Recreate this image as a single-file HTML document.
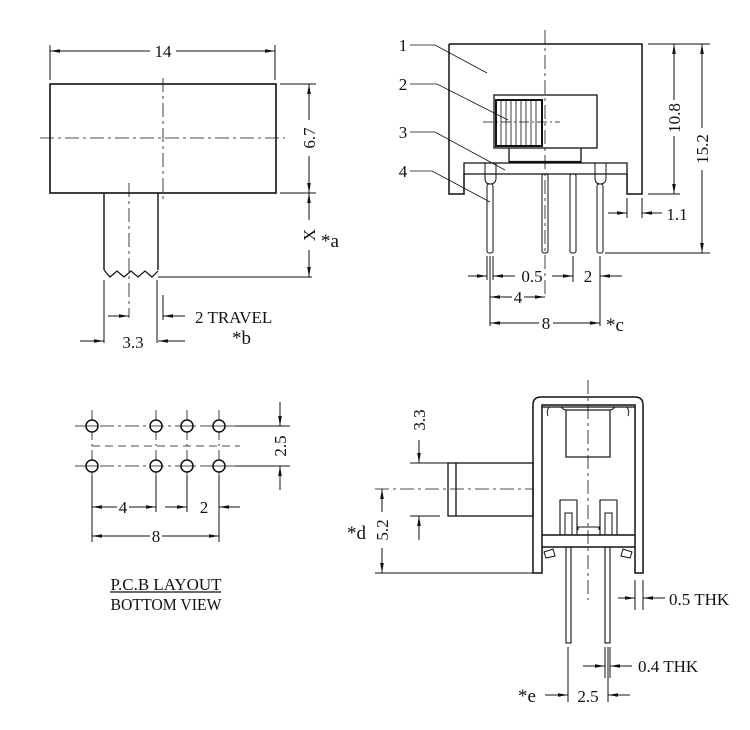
<!DOCTYPE html>
<html><head><meta charset="utf-8"><style>
html,body{margin:0;padding:0;background:#fff;}
svg{display:block;}
text{font-family:"Liberation Serif",serif;font-size:17px;fill:#111;}
.s{font-size:19px;}
</style></head><body>
<svg width="750" height="730" viewBox="0 0 750 730" xmlns="http://www.w3.org/2000/svg">
<defs>
<marker id="a" viewBox="0 0 10 6" refX="10" refY="3" markerWidth="10" markerHeight="6" markerUnits="userSpaceOnUse" orient="auto-start-reverse"><path d="M0,1.2 L10,3 L0,4.8 Z" fill="#111"/></marker>
</defs>
<g stroke="#111" stroke-width="1" fill="none">
<!-- ===== TOP LEFT ===== -->
<rect x="50" y="84" width="226" height="109" stroke-width="1.6"/>
<path d="M104,193 V270 M158,193 V270" stroke-width="1.4"/>
<path d="M104,270 L110,277 L117,271 L124,277 L131,271 L138,277 L145,271 L152,277 L158,271" stroke-width="1.2"/>
<path d="M158,277 H312" />
<path d="M40,138 H285" stroke-dasharray="14,4,3,4" stroke-width="0.8"/>
<path d="M163,78 V203" stroke-dasharray="14,4,3,4" stroke-width="0.8"/>
<path d="M129,183 V318" stroke-dasharray="14,4,3,4" stroke-width="0.8"/>
<path d="M50,45 V80 M275,45 V80"/>
<path d="M50,51 H150" marker-start="url(#a)"/>
<path d="M176,51 H275" marker-end="url(#a)"/>
<path d="M280,84 H316 M280,193 H316"/>
<path d="M309,84 V120" marker-start="url(#a)"/>
<path d="M309,156 V193" marker-end="url(#a)"/>
<path d="M309,193 V220" marker-start="url(#a)"/>
<path d="M309,250 V277" marker-end="url(#a)"/>
<path d="M104,280 V343 M157,280 V343 M163,295 V320"/>
<path d="M80,341 H104" marker-end="url(#a)"/>
<path d="M185,341 H158" marker-end="url(#a)"/>
<path d="M108,316 H129" marker-end="url(#a)"/>
<path d="M185,316 H163" marker-end="url(#a)"/>
<!-- ===== TOP RIGHT ===== -->
<path d="M449,44 H642 V194 H627 V174 M464,174 V194 H449 V44" stroke-width="1.5"/>
<path d="M464,163 H627 V174 H464 Z" stroke-width="1.3"/>
<path d="M485,163 V178 Q485,184 490,184 Q496,184 496,178 V163 M595,163 V178 Q595,184 600,184 Q606,184 606,178 V163"/>
<rect x="494" y="95" width="103" height="53" stroke-width="1.3"/>
<path d="M509,148 V163 M581,148 V163" stroke-width="1.3"/>
<path d="M509,162 H581" stroke-width="2.2"/>
<rect x="496" y="100" width="46" height="46" stroke-width="2"/>
<path d="M501,100V146 M506,100V146 M511,100V146 M516,100V146 M521,100V146 M526,100V146 M531,100V146 M536,100V146" stroke-width="0.8"/>
<path d="M483,122 H560" stroke-dasharray="10,3,2,3" stroke-width="0.7"/>
<path d="M545,30 V295" stroke-dasharray="14,4,3,4" stroke-width="0.8"/>
<rect x="487" y="184" width="6" height="69" rx="2"/>
<rect x="542" y="174" width="6" height="79" rx="2"/>
<rect x="570" y="174" width="6" height="79" rx="2"/>
<rect x="597" y="184" width="6" height="69" rx="2"/>
<path d="M410,45 H435 L487,73 M410,84 H437 L508,120 M410,132 H435 L505,170 M410,171 H432 L490,202" stroke-width="0.8"/>
<path d="M648,44 H710 M648,194 H680 M605,253 H710"/>
<path d="M674,44 V100" marker-start="url(#a)"/>
<path d="M674,136 V194" marker-end="url(#a)"/>
<path d="M702,44 V128" marker-start="url(#a)"/>
<path d="M702,170 V253" marker-end="url(#a)"/>
<path d="M627,198 V218 M642,198 V218"/>
<path d="M608,213 H627" marker-end="url(#a)"/>
<path d="M662,213 H642" marker-end="url(#a)"/>
<path d="M487,256 V280 M490,256 V326 M493,256 V280 M573,256 V282 M600,256 V326"/>
<path d="M468,276 H487" marker-end="url(#a)"/>
<path d="M515,276 H493" marker-end="url(#a)"/>
<path d="M552,276 H573" marker-end="url(#a)"/>
<path d="M622,276 H600" marker-end="url(#a)"/>
<path d="M490,297 H512" marker-start="url(#a)"/>
<path d="M524,297 H545" marker-end="url(#a)"/>
<path d="M490,323 H539" marker-start="url(#a)"/>
<path d="M553,323 H600" marker-end="url(#a)"/>
<!-- ===== BOTTOM LEFT ===== -->
<path d="M75,426 H290 M75,466 H290" stroke-dasharray="14,4,3,4" stroke-width="0.8"/>
<path d="M92,446 H240" stroke-dasharray="8,5" stroke-width="0.8"/>
<path d="M92,410 V482 M156,410 V482 M187,410 V482 M219,410 V482" stroke-dasharray="10,4,2,4" stroke-width="0.8"/>
<g stroke-width="1.5" fill="#fff"><circle cx="92" cy="426" r="6"/><circle cx="156" cy="426" r="6"/><circle cx="187" cy="426" r="6"/><circle cx="219" cy="426" r="6"/><circle cx="92" cy="466" r="6"/><circle cx="156" cy="466" r="6"/><circle cx="187" cy="466" r="6"/><circle cx="219" cy="466" r="6"/></g>
<path d="M86,426H98 M150,426H162 M181,426H193 M213,426H225 M86,466H98 M150,466H162 M181,466H193 M213,466H225" stroke-width="0.7"/>
<path d="M235,426 H290 M235,466 H290"/>
<path d="M280,402 V426" marker-end="url(#a)"/>
<path d="M280,490 V466" marker-end="url(#a)"/>
<path d="M92,476 V542 M156,476 V512 M187,476 V512 M219,476 V542"/>
<path d="M92,507 H117" marker-start="url(#a)"/>
<path d="M129,507 H156" marker-end="url(#a)"/>
<path d="M165,507 H187" marker-end="url(#a)"/>
<path d="M240,507 H219" marker-end="url(#a)"/>
<path d="M92,536 H150" marker-start="url(#a)"/>
<path d="M162,536 H219" marker-end="url(#a)"/>
<path d="M110,592 H221" stroke-width="1.2"/>
<!-- ===== BOTTOM RIGHT ===== -->
<path d="M533,573 V405 Q533,397 541,397 H635 Q643,397 643,405 V573 H635 V405 H542 V573 Z" stroke-width="1.5"/>
<path d="M542,407 H635" stroke-width="1.2"/>
<path d="M549,407 Q546,412 548,416 M627,407 Q630,412 628,416" stroke-width="1"/>
<path d="M561,407 Q564,410 566,410 H610 Q612,410 615,407"/>
<rect x="566" y="410" width="44" height="47" stroke-width="1.2"/>
<path d="M542,535 H635 M542,547 H635" stroke-width="1.4"/>
<path d="M560,535 V500 H577 V535 M560,524 V535 M600,535 V500 H617 V535" stroke-width="1.1"/>
<path d="M578,530 V527 H599 V530" stroke-width="1"/>
<rect x="565" y="513" width="7" height="22" stroke-width="1"/>
<rect x="605" y="513" width="7" height="22" stroke-width="1"/>
<path d="M544,552 L553,549 L555,556 L546,558 Z M632,552 L623,549 L621,556 L630,558 Z" stroke-width="1"/>
<rect x="566" y="547" width="5" height="96" stroke-width="1.1"/>
<rect x="605" y="547" width="5" height="96" stroke-width="1.1"/>
<rect x="448" y="463" width="85" height="53" stroke-width="1.3"/>
<path d="M456,463 V516" stroke-width="1.3"/>
<path d="M588,380 V600" stroke-dasharray="14,4,3,4" stroke-width="0.8"/>
<path d="M375,489 H533" stroke-dasharray="14,4,3,4" stroke-width="0.8"/>
<path d="M410,463 H448 M410,516 H440 M375,573 H535"/>
<path d="M419,440 V463" marker-end="url(#a)"/>
<path d="M419,540 V516" marker-end="url(#a)"/>
<path d="M382,489 V512" marker-start="url(#a)"/>
<path d="M382,548 V573" marker-end="url(#a)"/>
<path d="M635,580 V610 M643,580 V610"/>
<path d="M618,598 H635" marker-end="url(#a)"/>
<path d="M665,598 H643" marker-end="url(#a)"/>
<path d="M568,647 V702 M605,647 V678 M608,647 V702 M610,647 V678"/>
<path d="M583,666 H605" marker-end="url(#a)"/>
<path d="M632,666 H610" marker-end="url(#a)"/>
<path d="M545,695 H568" marker-end="url(#a)"/>
<path d="M630,695 H608" marker-end="url(#a)"/>
</g>
<!-- TEXT -->
<text x="163" y="57" text-anchor="middle">14</text>
<text transform="translate(315,138) rotate(-90)" text-anchor="middle">6.7</text>
<text transform="translate(315,235) rotate(-90)" text-anchor="middle">X</text>
<text class="s" x="321" y="247">*a</text>
<text x="133" y="348" text-anchor="middle">3.3</text>
<text x="195" y="323">2 TRAVEL</text>
<text class="s" x="232" y="344">*b</text>
<text x="403" y="51" text-anchor="middle">1</text>
<text x="403" y="90" text-anchor="middle">2</text>
<text x="403" y="138" text-anchor="middle">3</text>
<text x="403" y="177" text-anchor="middle">4</text>
<text transform="translate(680,118) rotate(-90)" text-anchor="middle">10.8</text>
<text transform="translate(708,149) rotate(-90)" text-anchor="middle">15.2</text>
<text x="677" y="220" text-anchor="middle">1.1</text>
<text x="532" y="282" text-anchor="middle">0.5</text>
<text x="588" y="282" text-anchor="middle">2</text>
<text x="518" y="303" text-anchor="middle">4</text>
<text x="546" y="329" text-anchor="middle">8</text>
<text class="s" x="606" y="331">*c</text>
<text transform="translate(286,446) rotate(-90)" text-anchor="middle">2.5</text>
<text x="123" y="513" text-anchor="middle">4</text>
<text x="204" y="513" text-anchor="middle">2</text>
<text x="156" y="542" text-anchor="middle">8</text>
<text x="166" y="590" text-anchor="middle" textLength="111" lengthAdjust="spacingAndGlyphs">P.C.B LAYOUT</text>
<text x="166" y="610" text-anchor="middle" textLength="111" lengthAdjust="spacingAndGlyphs">BOTTOM VIEW</text>
<text transform="translate(425,420) rotate(-90)" text-anchor="middle">3.3</text>
<text transform="translate(388,530) rotate(-90)" text-anchor="middle">5.2</text>
<text class="s" x="347" y="539">*d</text>
<text x="669" y="605">0.5 THK</text>
<text x="638" y="672">0.4 THK</text>
<text x="588" y="702" text-anchor="middle">2.5</text>
<text class="s" x="518" y="702">*e</text>
</svg>
</body></html>
